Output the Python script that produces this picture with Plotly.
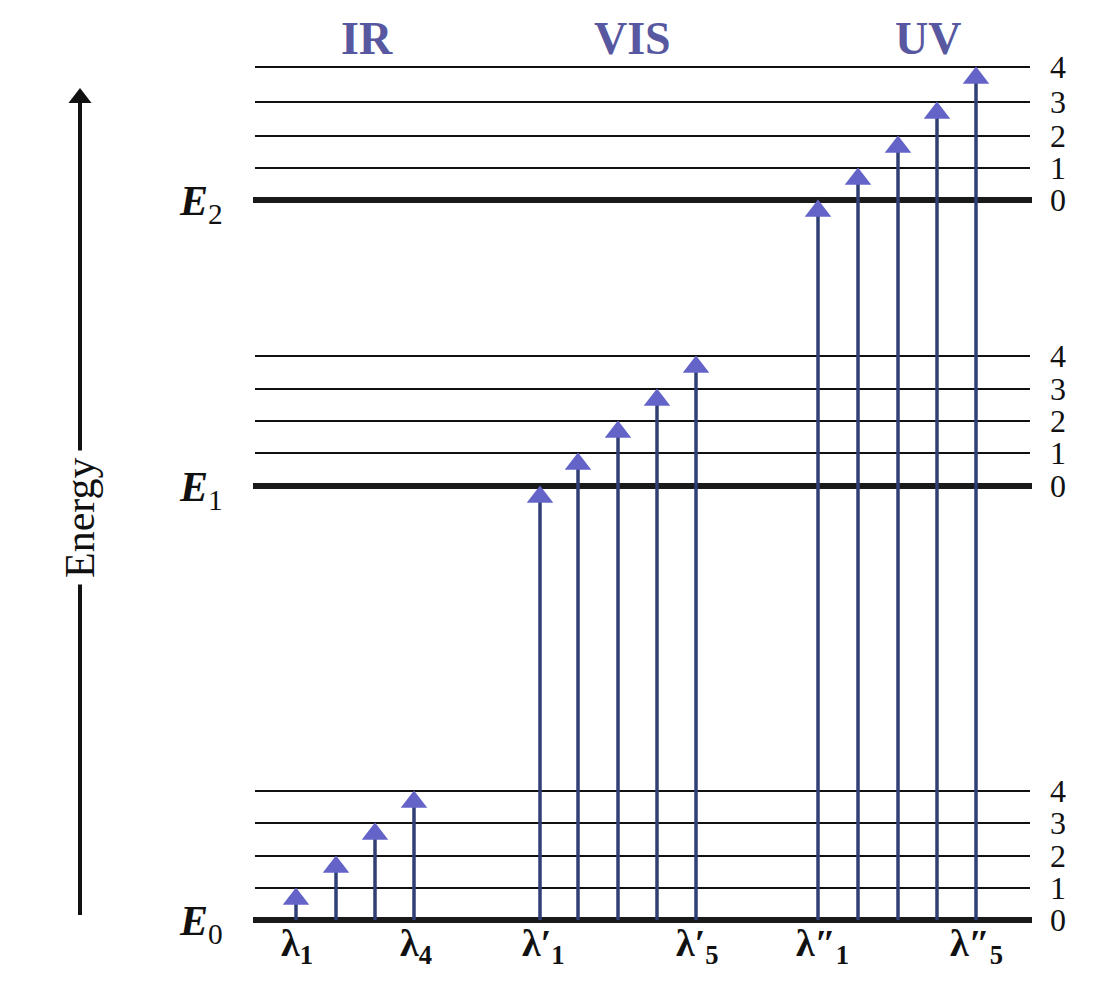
import plotly.graph_objects as go

# ---- data ----
# energy of each level (arbitrary units), grouped by electronic state
E0_levels = [0, 32, 64, 97, 129]
E1_levels = [434, 467, 499, 531, 564]
E2_levels = [720, 752, 784, 818, 853]
vib_labels = ["0", "1", "2", "3", "4"]
state_labels = ["<b><i>E</i></b><sub>0</sub>", "<b><i>E</i></b><sub>1</sub>", "<b><i>E</i></b><sub>2</sub>"]

# transitions: column position and target energy (all start at E0 v=0)
ir_x = [296, 336, 375, 414]
ir_to = [32, 64, 97, 129]
vis_x = [540, 578, 618, 657, 696]
vis_to = [434, 467, 499, 531, 564]
uv_x = [818, 858, 898, 937, 976]
uv_to = [720, 752, 784, 818, 853]

region_labels = ["IR", "VIS", "UV"]
region_x = [367, 632, 928]

bottom_labels = ["λ<sub>1</sub>", "λ<sub>4</sub>", "λ′<sub>1</sub>", "λ′<sub>5</sub>",
                 "λ″<sub>1</sub>", "λ″<sub>5</sub>"]
bottom_x = [297, 416, 543, 697, 822, 976]

fig = go.Figure()

SERIF = "Liberation Serif"
XL, XR = 255, 1030

# level lines
for levels in (E0_levels, E1_levels, E2_levels):
    for i, e in enumerate(levels):
        thick = (i == 0)
        fig.add_trace(go.Scatter(
            x=[XL - (2 if thick else 0), XR + (2 if thick else 0)], y=[e, e], mode="lines",
            line=dict(color="#1a1a1a" if thick else "#111", width=6 if thick else 2),
            hoverinfo="skip", showlegend=False))
        fig.add_annotation(x=1058, y=e, text=vib_labels[i], showarrow=False,
                           font=dict(family=SERIF, size=32, color="#111"),
                           height=30, valign="middle",
                           xanchor="center", yanchor="middle")

# state labels
for lab, levels in zip(state_labels, (E0_levels, E1_levels, E2_levels)):
    fig.add_annotation(x=201, y=levels[0] - 4, text=lab, showarrow=False,
                       font=dict(family=SERIF, size=42, color="#111"),
                       xanchor="center", yanchor="middle")

# transition arrows
HEAD = 11
for xs, tos in ((ir_x, ir_to), (vis_x, vis_to), (uv_x, uv_to)):
    for x, t in zip(xs, tos):
        fig.add_trace(go.Scatter(
            x=[x, x], y=[E0_levels[0], t - HEAD], mode="lines",
            line=dict(color="#303f75", width=3.5),
            hoverinfo="skip", showlegend=False))
    fig.add_trace(go.Scatter(
        x=xs, y=[t - HEAD for t in tos], mode="markers",
        marker=dict(symbol="triangle-up", size=23, color="#6464c8",
                    line=dict(width=0)),
        hoverinfo="skip", showlegend=False))

# region labels
for lab, x in zip(region_labels, region_x):
    fig.add_annotation(x=x, y=882, text="<b>" + lab + "</b>", showarrow=False,
                       font=dict(family=SERIF, size=46, color="#5858a0"),
                       xanchor="center", yanchor="middle")

# bottom wavelength labels
for lab, x in zip(bottom_labels, bottom_x):
    fig.add_annotation(x=x, y=-26, text="<b>" + lab + "</b>", showarrow=False,
                       font=dict(family=SERIF, size=38, color="#111"),
                       xanchor="center", yanchor="middle")

# energy axis arrow
fig.add_trace(go.Scatter(x=[80, 80], y=[5, 820], mode="lines",
                         line=dict(color="#111", width=4),
                         hoverinfo="skip", showlegend=False))
fig.add_trace(go.Scatter(x=[80], y=[822], mode="markers",
                         marker=dict(symbol="triangle-up", size=20, color="#111"),
                         hoverinfo="skip", showlegend=False))
fig.add_annotation(x=80, y=402, text="Energy", showarrow=False, textangle=-90,
                   font=dict(family="Liberation Sans Narrow", size=42, color="#111"),
                   bgcolor="white", xanchor="center", yanchor="middle",
                   borderpad=6)

fig.update_layout(
    width=1105, height=988,
    margin=dict(l=0, r=0, t=0, b=0),
    paper_bgcolor="white", plot_bgcolor="white",
    xaxis=dict(range=[8, 1113], visible=False, fixedrange=True),
    yaxis=dict(range=[-76, 912], visible=False, fixedrange=True),
    showlegend=False,
)

fig.write_html("out.html")
